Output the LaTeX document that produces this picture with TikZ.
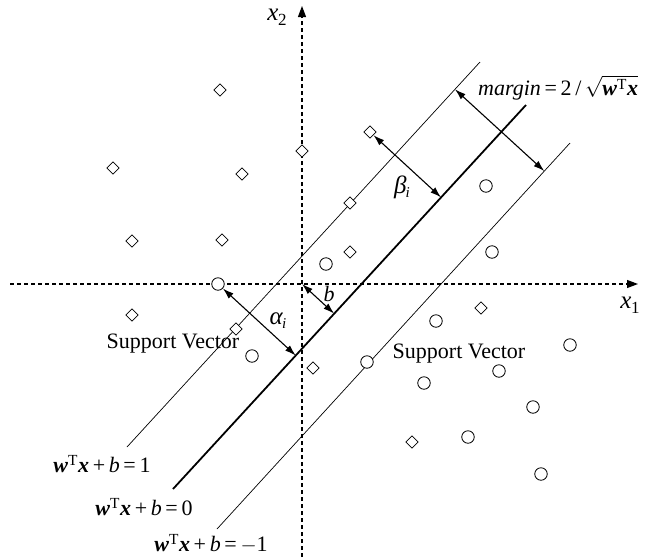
\documentclass[tikz,border=0pt]{standalone}
\usepackage{fontspec}
\usepackage{amsmath}
\setmainfont{Liberation Serif}
\usetikzlibrary{shapes.geometric,arrows.meta,calc}
\newcommand\vw{\textbf{\textit{w}}}
\newcommand\vx{\textbf{\textit{x}}}
\newcommand\iv[1]{\textit{#1}}
\begin{document}
\begin{tikzpicture}[x=1pt,y=-1pt,
  dia/.style={diamond,draw,fill=white,inner sep=0pt,minimum size=12.5pt,line width=0.8pt},
  cir/.style={circle,draw,fill=white,inner sep=0pt,minimum size=12.5pt,line width=0.8pt},
  axis/.style={line width=1.1pt,dash pattern=on 4pt off 3pt,-{Triangle[length=11pt,width=8pt]}},
  hyp/.style={line width=0.7pt},
  sep/.style={line width=1.8pt},
  dim/.style={line width=1.1pt,{Latex[length=11pt,width=7pt]}-{Latex[length=11pt,width=7pt]}},
  lab/.style={font=\fontsize{22}{26}\selectfont,inner sep=0pt},
  big/.style={font=\fontsize{25}{28}\selectfont,inner sep=0pt},
]
\useasboundingbox (0,0) rectangle (646,558);
% axes
\coordinate (xs) at (10,284);
\coordinate (xe) at (638,284);
\coordinate (ys) at (302,557);
\coordinate (ye) at (302,6);
\coordinate (O) at (302,284);
\draw[axis] (xs) -- (xe);
\draw[axis] (ys) -- (ye);
\node[big] (lx1) at (630,305) {\iv{x}\kern-0.5pt\raisebox{-5pt}{\fontsize{17}{18}\selectfont 1}};
\node[big] (lx2) at (277,17) {\iv{x}\kern-0.5pt\raisebox{-5pt}{\fontsize{17}{18}\selectfont 2}};
% hyperplanes
\coordinate (up1) at (127,447);
\coordinate (up2) at (480,62);
\coordinate (md1) at (173,489);
\coordinate (md2) at (526,105);
\coordinate (lo1) at (217,529);
\coordinate (lo2) at (570,143);
\draw[hyp] (up1) -- (up2);
\draw[sep] (md1) -- (md2);
\draw[hyp] (lo1) -- (lo2);
% diamonds
\foreach \n/\p in {d1/{(220,90)},d2/{(302,151)},d3/{(113,168)},d4/{(242,174)},d5/{(132,241)},d6/{(222,240)},d7/{(370,132)},d8/{(350,203)},d9/{(350,252)},d10/{(132,315)},d11/{(236,329)},d12/{(313,368)},d13/{(481,308)},d14/{(412,442)}}
  \node[dia] (\n) at \p {};
% circles
\foreach \n/\p in {c1/{(486,186)},c2/{(492,252)},c3/{(326,264)},c4/{(218,284)},c5/{(252,356)},c6/{(436,321)},c7/{(570,345)},c8/{(367,362)},c9/{(499,371)},c10/{(424,383)},c11/{(533,407)},c12/{(468,437)},c13/{(541,474)}}
  \node[cir] (\n) at \p {};
% dimension arrows
\coordinate (pa) at ($(md1)!(c4)!(md2)$);
\coordinate (pb) at ($(md1)!(d7)!(md2)$);
\coordinate (pO) at ($(md1)!(O)!(md2)$);
\coordinate (mA) at (455,89.3);
\coordinate (mB) at ($(lo1)!(mA)!(lo2)$);
\draw[dim] (c4) -- (pa);
\draw[dim] (d7) -- (pb);
\draw[dim] (O) -- (pO);
\draw[dim] (mA) -- (mB);
\node[big] (la) at (278,321) {\iv{α}\kern-1pt\raisebox{-4pt}{\fontsize{15}{16}\selectfont\itshape i}};
\node[big] (lb) at (402,187) {\iv{β}\kern-1pt\raisebox{-4pt}{\fontsize{15}{16}\selectfont\itshape i}};
\node[lab] (lbb) at (329,294) {\iv{b}};
\node[lab,anchor=west] (lm) at (478,88) {\iv{margin}\,=\,2\,/\,$\sqrt{\text{\vw}^{\mathrm{T}}\text{\vx}}$};
% labels
\node[lab] (sv1) at (173,344) {Support Vector};
\node[lab] (sv2) at (459,354) {Support Vector};
\node[lab] (e1) at (102,464) {\vw\textsuperscript{T}\vx\,+\,\iv{b}\,=\,1};
\node[lab] (e0) at (144,507) {\vw\textsuperscript{T}\vx\,+\,\iv{b}\,=\,0};
\node[lab] (em) at (211,544) {\vw\textsuperscript{T}\vx\,+\,\iv{b}\,=\,$-$1};
\end{tikzpicture}
\end{document}
